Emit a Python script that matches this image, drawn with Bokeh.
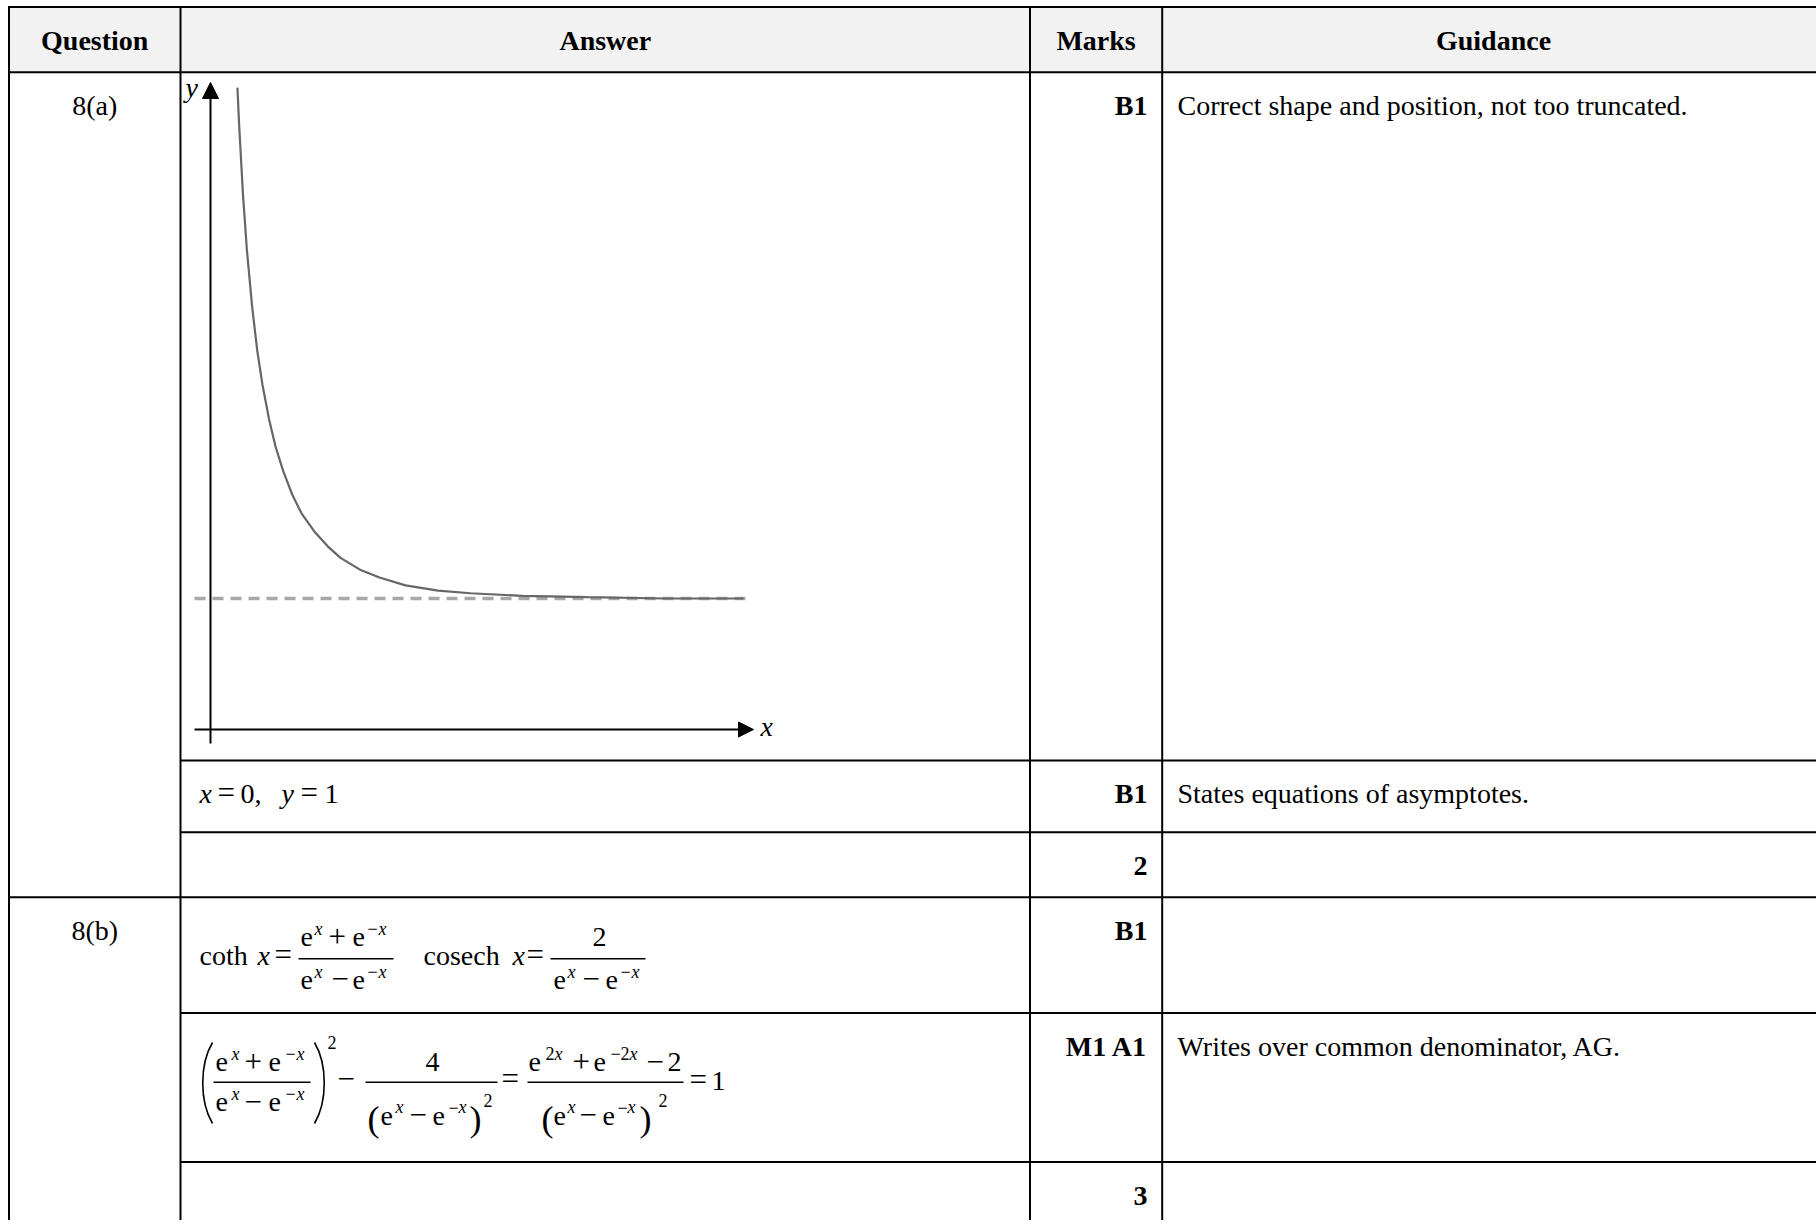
from bokeh.plotting import figure
from bokeh.models import Range1d, Arrow, NormalHead, ColumnDataSource
from bokeh.core.properties import value
from bokeh.embed import file_html
from bokeh.resources import INLINE

# ---------------- content ----------------
headers = ["Question", "Answer", "Marks", "Guidance"]
questions = ["8(a)", "8(b)"]
marks = ["B1", "B1", "2", "B1", "M1 A1", "3"]
guidance = ["Correct shape and position, not too truncated.",
            "States equations of asymptotes.",
            "Writes over common denominator, AG."]

# sketch of y = coth x (graph units)
curve_x = [0.207, 0.22, 0.25, 0.28, 0.32, 0.36, 0.40, 0.45, 0.50, 0.56, 0.63, 0.70,
           0.80, 0.90, 1.00, 1.15, 1.30, 1.50, 1.75, 2.00, 2.40, 2.90, 3.50, 4.10]
curve_y = [4.90, 4.62, 4.08, 3.66, 3.23, 2.89, 2.63, 2.37, 2.16, 1.97, 1.79, 1.65,
           1.51, 1.40, 1.31, 1.22, 1.16, 1.10, 1.06, 1.04, 1.02, 1.01, 1.00, 1.00]
asymptote_y = 1.0
asymptote_x = [-0.123, 4.115]
x_axis_span = [-0.123, 4.177]
y_axis_span = [-0.107, 4.939]

# ---------------- layout ----------------
W, H = 1816, 1220
OX, OY = 0, 0
SERIF = "Liberation Serif"

p = figure(width=W, height=H, output_backend="svg", toolbar_location=None,
           x_range=Range1d(OX, OX + W), y_range=Range1d(OY + H, OY),
           x_axis_type=None, y_axis_type=None, min_border=0,
           outline_line_color=None, background_fill_color="white",
           border_fill_color="white")

# graph coordinate system mapped into the answer cell
GX0, GXS = 210.0, 130.0
GY0, GYS = 729.0, 131.0
p.extra_x_ranges = {"g": Range1d((OX - GX0) / GXS, (OX + W - GX0) / GXS)}
p.extra_y_ranges = {"g": Range1d((GY0 - (OY + H)) / GYS, (GY0 - OY) / GYS)}

RIGHT = OX + W
# header background
p.quad(left=[8.5], right=[RIGHT], top=[6.5], bottom=[71.7], fill_color="#f2f2f2", line_color=None)

# table rules
hx0 = [8.5, 8.5, 180, 180, 8.5, 180, 180]
hy = [6.5, 71.7, 760, 831.7, 896.7, 1012.5, 1161.5]
p.segment(x0=hx0, y0=hy, x1=[RIGHT] * len(hy), y1=hy, line_color="black", line_width=2)
vx = [8.5, 180, 1029.5, 1161.7]
p.segment(x0=vx, y0=[5.5] * 4, x1=vx, y1=[OY + H] * 4, line_color="black", line_width=2)

# ---------------- graph ----------------
p.line(x=asymptote_x, y=[asymptote_y] * 2, x_range_name="g", y_range_name="g",
       line_color="#a8a8a8", line_width=3.5, line_dash="11 7")
p.line(x=curve_x, y=curve_y, x_range_name="g", y_range_name="g",
       line_color="#666666", line_width=2.2)
p.add_layout(Arrow(end=NormalHead(size=16, fill_color="black", line_color="black", line_width=1),
                   x_start=0, y_start=y_axis_span[0], x_end=0, y_end=y_axis_span[1],
                   line_color="black", line_width=2, x_range_name="g", y_range_name="g"))
p.add_layout(Arrow(end=NormalHead(size=15, fill_color="black", line_color="black", line_width=1),
                   x_start=x_axis_span[0], y_start=0, x_end=x_axis_span[1], y_end=0,
                   line_color="black", line_width=2, x_range_name="g", y_range_name="g"))

# ---------------- text ----------------
groups = {}
BASE_SHIFT = 0.35  # compensation for the renderer's baseline placement (fraction of size)


def add(t, x, y, size=28, style="normal", align="left"):
    groups.setdefault((size, style, align), []).append((t, x, y - BASE_SHIFT * size))


header_x = [94.2, 604.8, 1095.6, 1493]
for t, x in zip(headers, header_x):
    add(t, x, 49.5, 28, "bold", "center")

for t, y in zip(questions, [115, 940]):
    add(t, 94.2, y, 28, "normal", "center")

for t, y in zip(marks, [115, 803, 875, 940, 1056, 1205]):
    add(t, 1147, y, 28, "bold", "right")

for t, y in zip(guidance, [115, 803, 1056]):
    add(t, 1177, y, 28, "normal", "left")

# axis labels
add("y", 185, 97, 28, "italic")
add("x", 760, 736, 28, "italic")

OP = 31
SUP = 18
# x = 0,  y = 1
add("x", 199, 803, 28, "italic"); add("=", 217, 803, OP); add("0,", 240, 803)
add("y", 281, 803, 28, "italic"); add("=", 300, 803, OP); add("1", 324, 803)

# coth x = ..., cosech x = ...
b, nb, db = 965, 946.7, 989.3
add("coth", 199, b); add("x", 257, b, 28, "italic"); add("=", 274, b, OP)
add("e", 300, nb); add("x", 314, nb - 12, SUP, "italic"); add("+", 328, nb, OP)
add("e", 352, nb); add("\u2212", 367, nb - 12, SUP); add("x", 378, nb - 12, SUP, "italic")
add("e", 300, db); add("x", 314, db - 12, SUP, "italic"); add("\u2212", 331, db, OP)
add("e", 352, db); add("\u2212", 367, db - 12, SUP); add("x", 378, db - 12, SUP, "italic")
add("cosech", 423, b); add("x", 512, b, 28, "italic"); add("=", 526, b, OP)
add("2", 592, nb)
add("e", 553, db); add("x", 567, db - 12, SUP, "italic"); add("\u2212", 582, db, OP)
add("e", 605, db); add("\u2212", 620, db - 12, SUP); add("x", 631, db - 12, SUP, "italic")

# (..)^2 - 4/(..)^2 = (...)/(..)^2 = 1
nb2, db1, db2 = 1071.7, 1111.7, 1125
add("e", 215, nb2); add("x", 231, nb2 - 12, SUP, "italic"); add("+", 244, nb2, OP)
add("e", 268, nb2); add("\u2212", 285, nb2 - 12, SUP); add("x", 296, nb2 - 12, SUP, "italic")
add("e", 215, db1); add("x", 231, db1 - 12, SUP, "italic"); add("\u2212", 244, db1, OP)
add("e", 268, db1); add("\u2212", 285, db1 - 12, SUP); add("x", 296, db1 - 12, SUP, "italic")
add("2", 327, 1048, SUP)
add("\u2212", 337, 1089, OP)
add("4", 425, nb2)
add("(", 367, 1131, 36); add("e", 380, db2); add("x", 395, db2 - 12, SUP, "italic")
add("\u2212", 409, db2, OP); add("e", 432, db2); add("\u2212", 448, db2 - 12, SUP)
add("x", 458, db2 - 12, SUP, "italic"); add(")", 469, 1131, 36); add("2", 483, 1106, SUP)
add("=", 501, 1089, OP)
add("e", 528, nb2); add("2", 545, nb2 - 12, SUP); add("x", 554, nb2 - 12, SUP, "italic")
add("+", 572, nb2, OP); add("e", 593, nb2); add("\u2212", 610, nb2 - 12, SUP)
add("2", 620, nb2 - 12, SUP); add("x", 629, nb2 - 12, SUP, "italic")
add("\u2212", 646, nb2, OP); add("2", 667, nb2)
add("(", 541, 1131, 36); add("e", 553, db2); add("x", 567, db2 - 12, SUP, "italic")
add("\u2212", 579, db2, OP); add("e", 602, db2); add("\u2212", 617, db2 - 12, SUP)
add("x", 627, db2 - 12, SUP, "italic"); add(")", 639, 1131, 36); add("2", 658, 1106, SUP)
add("=", 689, 1090, OP); add("1", 711, 1090)

for (size, style, align), items in groups.items():
    src = ColumnDataSource(dict(x=[i[1] for i in items], y=[i[2] for i in items],
                                text=[i[0] for i in items]))
    p.text(x="x", y="y", text="text", source=src, text_font=value(SERIF),
           text_font_size=value(f"{size}px"), text_font_style=style,
           text_align=align, text_baseline="alphabetic", text_color="black")

# fraction bars
bx0 = [298, 550, 213, 365, 527]
bx1 = [393, 645, 310, 497, 683]
by = [958.3, 958.3, 1081.7, 1081.7, 1081.7]
p.segment(x0=bx0, y0=by, x1=bx1, y1=by, line_color="black", line_width=1.5)

# large parentheses
p.bezier(x0=[212, 314], y0=[1042, 1042], x1=[212, 314], y1=[1123, 1123],
         cx0=[199, 327], cy0=[1064, 1064], cx1=[199, 327], cy1=[1101, 1101],
         line_color="black", line_width=1.6)

open("out.html", "w").write(file_html(p, INLINE))
